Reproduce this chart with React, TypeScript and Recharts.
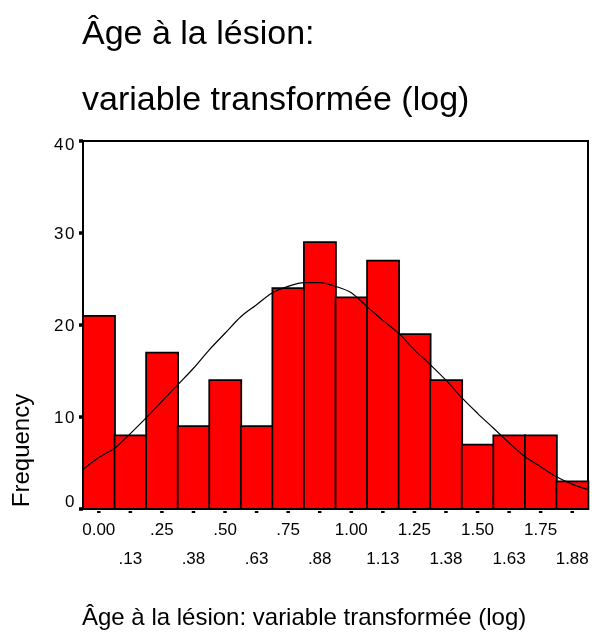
import { ComposedChart, Bar, Line, XAxis, YAxis, ReferenceArea } from 'recharts';

// histogram bins (bin centres labelled as in the original output)
const binLabels = ['0.00', '.13', '.25', '.38', '.50', '.63', '.75', '.88', '1.00', '1.13', '1.25', '1.38', '1.50', '1.63', '1.75', '1.88'];
const frequencies = [21, 8, 17, 9, 14, 9, 24, 29, 23, 27, 19, 14, 7, 8, 8, 3];

// normal curve, every half bin
const curveX = [
  -0.0625, 0, 0.0625, 0.125, 0.1875, 0.25, 0.3125, 0.375, 0.4375, 0.5, 0.5625,
  0.625, 0.6875, 0.75, 0.8125, 0.875, 0.9375, 1, 1.0625, 1.125, 1.1875, 1.25,
  1.3125, 1.375, 1.4375, 1.5, 1.5625, 1.625, 1.6875, 1.75, 1.8125, 1.875, 1.9375,
];
const curveY = [
  4.3, 5.6, 6.6, 8.2, 9.9, 11.7, 13.5, 15.3, 17.3, 19.1, 20.9,
  22.2, 23.5, 24.2, 24.6, 24.6, 24.2, 23.5, 22.0, 20.5, 19.1, 17.3,
  15.7, 14.0, 12.1, 10.4, 8.8, 7.2, 5.7, 4.6, 3.5, 2.7, 2.1,
];

const yTicks = [0, 10, 20, 30, 40];

const bins = binLabels.map((label, i) => ({ label, count: frequencies[i] }));
const curve = curveX.map((x, i) => ({ x, y: curveY[i] }));

const FONT = '"Liberation Sans", Arial, Helvetica, sans-serif';

function BinTick({ x, y, payload, index }: any) {
  const low = index % 2 === 1;
  return (
    <g>
      <rect x={x - 1.75} y={y + 2} width={3.5} height={2} fill="#000" />
      <text x={x} y={y + (low ? 54.5 : 26)} textAnchor="middle" fontSize={17} fontFamily={FONT} fill="#000">
        {payload.value}
      </text>
    </g>
  );
}

function CountTick({ x, y, payload, index }: any) {
  // first and last labels are pulled inside the frame, as in the original
  const shift = index === 0 ? -8 : index === yTicks.length - 1 ? 3 : 0;
  return (
    <g>
      <rect x={x - 4} y={y - 1.75} width={4} height={3.5} fill="#000" />
      <text x={x - 7} y={y + 6 + shift} textAnchor="end" fontSize={17} letterSpacing={1.5} fontFamily={FONT} fill="#000">
        {payload.value}
      </text>
    </g>
  );
}

const frame = { stroke: '#000', strokeWidth: 2 };

export default function App() {
  return (
    <div style={{ position: 'fixed', left: 0, top: 0, width: 592, height: 633, overflow: 'hidden', fontFamily: FONT }}>
      <ComposedChart
        width={592}
        height={633}
        data={bins}
        margin={{ top: 141, right: 4, bottom: 54, left: 23 }}
        barCategoryGap={0}
        barGap={0}
      >
        <XAxis
          xAxisId="bins"
          dataKey="label"
          type="category"
          height={70}
          interval={0}
          tickSize={0}
          tickMargin={0}
          tick={<BinTick />}
          axisLine={frame}
        />
        <XAxis xAxisId="curve" dataKey="x" type="number" domain={[-0.0625, 1.9375]} allowDataOverflow hide />
        <YAxis
          domain={[0, 40]}
          ticks={yTicks}
          width={60}
          tickSize={0}
          tickMargin={0}
          tick={<CountTick />}
          axisLine={frame}
        />
        <Bar xAxisId="bins" dataKey="count" fill="#ff0000" stroke="#000" strokeWidth={1.75} isAnimationActive={false} />
        <Line
          xAxisId="curve"
          data={curve}
          dataKey="y"
          type="monotone"
          stroke="#000"
          strokeWidth={1.2}
          dot={false}
          isAnimationActive={false}
        />
        <ReferenceArea
          xAxisId="curve"
          x1={-0.0625}
          x2={1.9375}
          y1={0}
          y2={40}
          fill="none"
          stroke="#000"
          strokeWidth={2}
          ifOverflow="visible"
        />
      </ComposedChart>
      <svg width={592} height={633} style={{ position: 'absolute', left: 0, top: 0, pointerEvents: 'none' }}>
        <text x={82} y={44} fontSize={34} fontFamily={FONT} fill="#000">Âge à la lésion:</text>
        <text x={82} y={110} fontSize={34} fontFamily={FONT} fill="#000">variable transformée (log)</text>
        <text x={82} y={625} fontSize={24} fontFamily={FONT} fill="#000">
          Âge à la lésion: variable transformée (log)
        </text>
        <text transform="translate(29 450.5) rotate(-90)" textAnchor="middle" fontSize={24} fontFamily={FONT} fill="#000">
          Frequency
        </text>
      </svg>
    </div>
  );
}
